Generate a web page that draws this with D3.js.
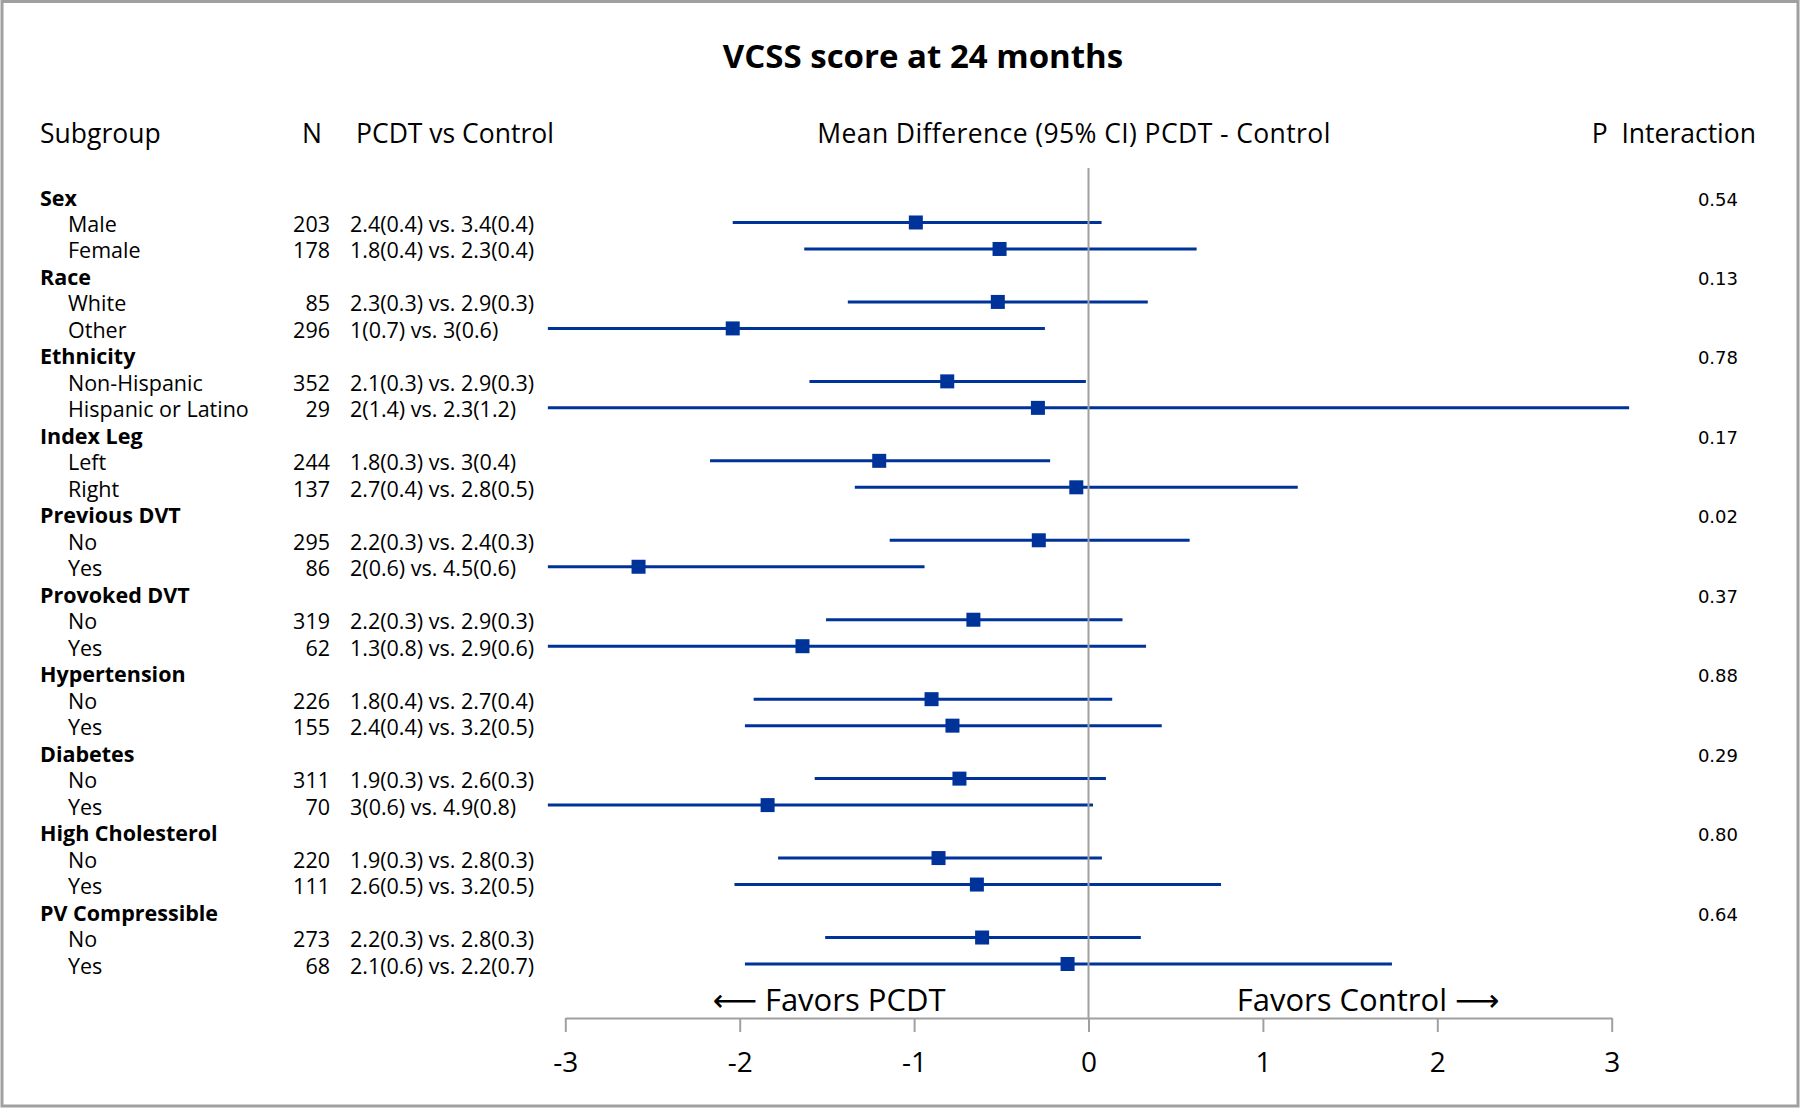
<!DOCTYPE html>
<html>
<head>
<meta charset="utf-8">
<script src="https://cdn.jsdelivr.net/npm/d3@7"></script>
<style>
    body { margin: 0; background: #fff; }
    text { font-family: "Open Sans", "DejaVu Sans", sans-serif; fill: #000; }
</style>
</head>
<body>
<script>
// subgroup structure
const groups = ["Sex", "Race", "Ethnicity", "Index Leg", "Previous DVT", "Provoked DVT",
    "Hypertension", "Diabetes", "High Cholesterol", "PV Compressible"];
const pInteraction = ["0.54", "0.13", "0.78", "0.17", "0.02", "0.37", "0.88", "0.29", "0.80", "0.64"];
const subgroups = [["Male", "Female"], ["White", "Other"], ["Non-Hispanic", "Hispanic or Latino"],
    ["Left", "Right"], ["No", "Yes"], ["No", "Yes"], ["No", "Yes"], ["No", "Yes"], ["No", "Yes"], ["No", "Yes"]];

// per-subgroup values
const nValues = [203, 178, 85, 296, 352, 29, 244, 137, 295, 86, 319, 62, 226, 155, 311, 70, 220, 111, 273, 68];
const meanText = ["2.4(0.4) vs. 3.4(0.4)", "1.8(0.4) vs. 2.3(0.4)", "2.3(0.3) vs. 2.9(0.3)", "1(0.7) vs. 3(0.6)",
    "2.1(0.3) vs. 2.9(0.3)", "2(1.4) vs. 2.3(1.2)", "1.8(0.3) vs. 3(0.4)", "2.7(0.4) vs. 2.8(0.5)",
    "2.2(0.3) vs. 2.4(0.3)", "2(0.6) vs. 4.5(0.6)", "2.2(0.3) vs. 2.9(0.3)", "1.3(0.8) vs. 2.9(0.6)",
    "1.8(0.4) vs. 2.7(0.4)", "2.4(0.4) vs. 3.2(0.5)", "1.9(0.3) vs. 2.6(0.3)", "3(0.6) vs. 4.9(0.8)",
    "1.9(0.3) vs. 2.8(0.3)", "2.6(0.5) vs. 3.2(0.5)", "2.2(0.3) vs. 2.8(0.3)", "2.1(0.6) vs. 2.2(0.7)"];
const estimate = [-0.99, -0.51, -0.52, -2.04, -0.81, -0.29, -1.20, -0.07, -0.285, -2.58,
    -0.66, -1.64, -0.90, -0.78, -0.74, -1.84, -0.86, -0.64, -0.61, -0.12];
const lower = [-2.04, -1.63, -1.38, -3.83, -1.60, -3.90, -2.17, -1.34, -1.14, -4.22,
    -1.505, -3.61, -1.92, -1.97, -1.57, -3.71, -1.78, -2.03, -1.51, -1.97];
const upper = [0.075, 0.62, 0.34, -0.25, -0.015, 3.32, -0.22, 1.20, 0.58, -0.94,
    0.195, 0.33, 0.136, 0.42, 0.10, 0.026, 0.077, 0.76, 0.30, 1.74];

const xTicks = [-3, -2, -1, 0, 1, 2, 3];

const W = 1800, H = 1108;
const blue = "#003399", grey = "#a0a0a0";

// flatten into rows
let rows = [];
let k = 0;
groups.forEach(function(g, gi) {
    rows.push({label: g, group: true, p: pInteraction[gi]});
    subgroups[gi].forEach(function(s) {
        rows.push({label: s, group: false, i: k});
        k++;
    });
});

const svg = d3.select("body").append("svg")
    .attr("width", W)
    .attr("height", H);

svg.append("rect")
    .attr("x", 2).attr("y", 1.5)
    .attr("width", W - 4).attr("height", H - 3.5)
    .attr("fill", "none")
    .attr("stroke", "#a0a0a0")
    .attr("stroke-width", 3);

const x = d3.scaleLinear().domain([-3, 3]).range([565.3, 1611.7]);
const y = d3.scalePoint().domain(d3.range(rows.length)).range([196, 964]);
const axisY = 1018;

// title
svg.append("text")
    .attr("x", 923).attr("y", 68)
    .attr("text-anchor", "middle")
    .attr("font-size", 33)
    .attr("font-weight", "bold")
    .text("VCSS score at 24 months");

// column headers
const header = svg.append("g").attr("font-size", 26.5);
header.append("text").attr("x", 40).attr("y", 143).text("Subgroup");
header.append("text").attr("x", 312).attr("y", 143).attr("text-anchor", "middle").text("N");
header.append("text").attr("x", 356).attr("y", 143).text("PCDT vs Control");
header.append("text").attr("x", 1074).attr("y", 143).attr("text-anchor", "middle")
    .attr("letter-spacing", 0.4)
    .text("Mean Difference (95% CI) PCDT - Control");
header.append("text").attr("x", 1756).attr("y", 143).attr("text-anchor", "end")
    .style("white-space", "pre").text("P  Interaction");

// left table
const table = svg.append("g").attr("font-size", 21.5);
table.selectAll(".label")
    .data(rows)
    .enter()
    .append("text")
    .attr("class", "label")
    .attr("x", function(d) { return d.group ? 40 : 68; })
    .attr("y", function(d, i) { return y(i) + 9.5; })
    .attr("font-weight", function(d) { return d.group ? "bold" : "normal"; })
    .text(function(d) { return d.label; });

const subRows = rows.map(function(d, i) { return {d: d, r: i}; }).filter(function(o) { return !o.d.group; });

table.selectAll(".nval")
    .data(subRows)
    .enter()
    .append("text")
    .attr("class", "nval")
    .attr("x", 330)
    .attr("y", function(o) { return y(o.r) + 9.5; })
    .attr("text-anchor", "end")
    .text(function(o) { return nValues[o.d.i]; });

table.selectAll(".mean")
    .data(subRows)
    .enter()
    .append("text")
    .attr("class", "mean")
    .attr("x", 350)
    .attr("y", function(o) { return y(o.r) + 9.5; })
    .text(function(o) { return meanText[o.d.i]; });

// p interaction
const groupRows = rows.map(function(d, i) { return {d: d, r: i}; }).filter(function(o) { return o.d.group; });
svg.append("g")
    .selectAll("text")
    .data(groupRows)
    .enter()
    .append("text")
    .attr("x", 1738)
    .attr("y", function(o) { return y(o.r) + 9.5; })
    .attr("text-anchor", "end")
    .style("font-family", "'DejaVu Sans', sans-serif")
    .attr("font-size", 18)
    .text(function(o) { return o.d.p; });

// plot area clip
svg.append("clipPath").attr("id", "plotclip")
    .append("rect")
    .attr("x", x(-3.1)).attr("y", 150)
    .attr("width", x(3.1) - x(-3.1)).attr("height", 860);

const plot = svg.append("g").attr("clip-path", "url(#plotclip)");

plot.selectAll(".ci")
    .data(subRows)
    .enter()
    .append("line")
    .attr("class", "ci")
    .attr("x1", function(o) { return x(lower[o.d.i]); })
    .attr("x2", function(o) { return x(upper[o.d.i]); })
    .attr("y1", function(o) { return y(o.r); })
    .attr("y2", function(o) { return y(o.r); })
    .attr("stroke", blue)
    .attr("stroke-width", 3);

// reference line at 0
svg.append("line")
    .attr("x1", x(0)).attr("x2", x(0))
    .attr("y1", 168).attr("y2", axisY)
    .attr("stroke", grey)
    .attr("stroke-width", 2);

plot.selectAll(".est")
    .data(subRows)
    .enter()
    .append("rect")
    .attr("class", "est")
    .attr("x", function(o) { return x(estimate[o.d.i]) - 7; })
    .attr("y", function(o) { return y(o.r) - 7; })
    .attr("width", 14)
    .attr("height", 14)
    .attr("fill", blue);

// axis
const axis = svg.append("g")
    .attr("transform", "translate(0," + axisY + ")")
    .call(d3.axisBottom(x).tickValues(xTicks).tickSize(14).tickSizeOuter(0).tickPadding(20)
        .tickFormat(function(d) { return String(d); }));
axis.select(".domain").attr("stroke", grey).attr("stroke-width", 2);
axis.selectAll(".tick line").attr("stroke", grey).attr("stroke-width", 2);
axis.selectAll(".tick text")
    .attr("font-size", 28)
    .style("font-family", "'Open Sans', sans-serif")
    .attr("fill", "#000");

// favors labels
svg.append("text")
    .attr("x", x(-0.82)).attr("y", 1011)
    .attr("text-anchor", "end")
    .attr("font-size", 31)
    .text("\u27F5 Favors PCDT");
svg.append("text")
    .attr("x", x(0.85)).attr("y", 1011)
    .attr("font-size", 31)
    .text("Favors Control \u27F6");
</script>
</body>
</html>
